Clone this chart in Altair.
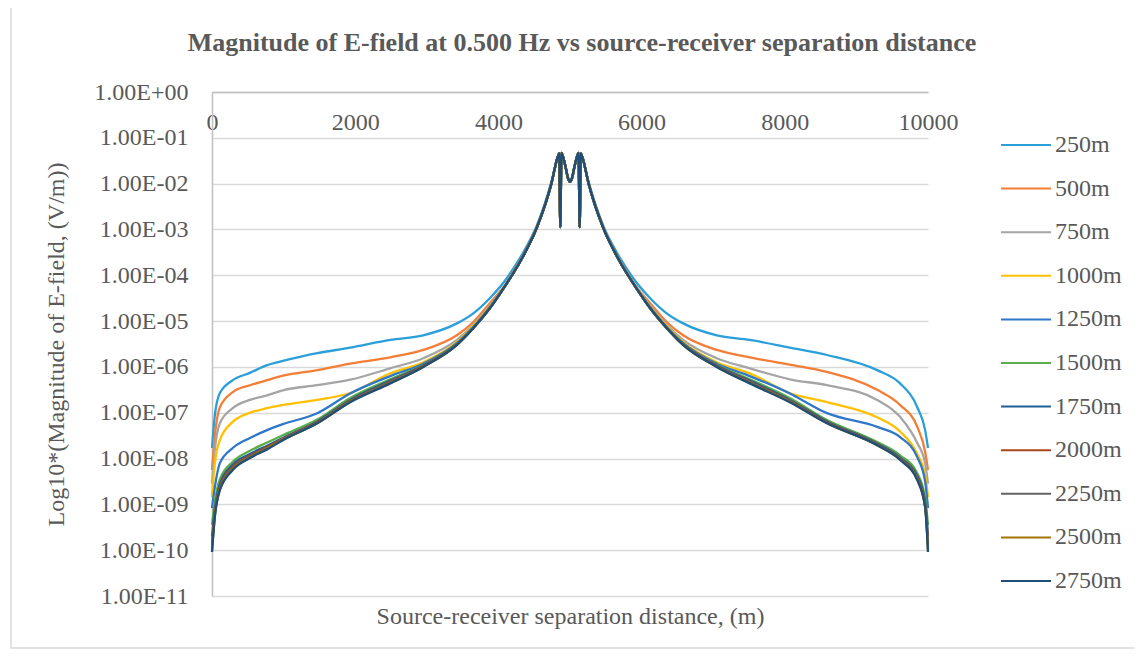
import altair as alt
import pandas as pd

SERIES = ["250m", "500m", "750m", "1000m", "1250m", "1500m",
          "1750m", "2000m", "2250m", "2500m", "2750m"]
COLORS = ["#2A9FDA", "#F47E35", "#A5A5A5", "#FFC000", "#2E77C9", "#5AAD4A",
          "#1F5F99", "#A9461D", "#636363", "#A27500", "#1F4E79"]

# source-receiver separation (m)
X_LEFT = [0, 40, 110, 290, 530, 770, 990, 1470, 1930, 2490, 2950, 3420,
          3650, 3880, 4120, 4210, 4340, 4540, 4740]
X_CENTER = [4830, 4850, 4865, 4880, 4900, 4940, 4970, 5000, 5030, 5060,
            5100, 5120, 5135, 5150, 5170]
X_RIGHT = [5260, 5460, 5660, 5790, 5880, 6120, 6350, 6580, 7050, 7510,
           8070, 8590, 9290, 9610, 9850, 9960, 10000]

# log10 of |E| (V/m) shared by all offsets near the source
LOG_CENTER = [-1.41, -1.34, -2.95, -1.33, -1.40, -1.65, -1.87, -1.96,
              -1.87, -1.65, -1.40, -1.33, -2.95, -1.34, -1.41]

LOG_LEFT = {
    "250m":  [-7.77, -7.05, -6.57, -6.29, -6.13, -5.96, -5.87, -5.70, -5.58, -5.41, -5.31, -5.05, -4.83, -4.50, -4.06, -3.85, -3.52, -2.90, -1.96],
    "500m":  [-8.25, -7.50, -6.88, -6.55, -6.40, -6.29, -6.19, -6.07, -5.93, -5.79, -5.63, -5.31, -5.02, -4.61, -4.15, -3.92, -3.58, -2.93, -1.99],
    "750m":  [-8.55, -7.80, -7.23, -6.90, -6.72, -6.62, -6.51, -6.40, -6.28, -6.03, -5.81, -5.41, -5.08, -4.66, -4.16, -3.94, -3.59, -2.94, -2.00],
    "1000m": [-8.84, -8.10, -7.60, -7.20, -7.00, -6.90, -6.83, -6.72, -6.57, -6.14, -5.90, -5.46, -5.11, -4.69, -4.17, -3.95, -3.60, -2.95, -2.00],
    "1250m": [-9.08, -8.62, -8.10, -7.77, -7.55, -7.38, -7.25, -7.01, -6.58, -6.20, -5.93, -5.48, -5.13, -4.70, -4.17, -3.95, -3.60, -2.95, -2.00],
    "1500m": [-9.45, -8.95, -8.45, -8.07, -7.83, -7.65, -7.49, -7.15, -6.68, -6.27, -5.96, -5.50, -5.14, -4.71, -4.17, -3.95, -3.60, -2.95, -2.00],
    "1750m": [-9.70, -9.10, -8.55, -8.13, -7.90, -7.72, -7.55, -7.19, -6.72, -6.30, -5.97, -5.51, -5.15, -4.72, -4.17, -3.95, -3.60, -2.95, -2.00],
    "2000m": [-9.85, -9.17, -8.61, -8.18, -7.94, -7.75, -7.57, -7.21, -6.74, -6.32, -5.98, -5.51, -5.15, -4.72, -4.17, -3.95, -3.60, -2.95, -2.00],
    "2250m": [-9.95, -9.22, -8.65, -8.21, -7.96, -7.77, -7.58, -7.22, -6.75, -6.33, -5.99, -5.52, -5.15, -4.72, -4.17, -3.95, -3.60, -2.95, -2.00],
    "2500m": [-10.00, -9.25, -8.67, -8.23, -7.98, -7.78, -7.59, -7.23, -6.76, -6.35, -6.00, -5.52, -5.15, -4.72, -4.17, -3.95, -3.60, -2.95, -2.00],
    "2750m": [-10.04, -9.27, -8.69, -8.25, -7.99, -7.80, -7.60, -7.23, -6.77, -6.36, -6.00, -5.52, -5.15, -4.72, -4.17, -3.95, -3.60, -2.95, -2.00],
}

LOG_RIGHT = {
    "250m":  [-1.96, -2.90, -3.52, -3.85, -4.06, -4.50, -4.83, -5.05, -5.31, -5.41, -5.58, -5.74, -6.07, -6.36, -6.88, -7.38, -7.77],
    "500m":  [-1.99, -2.93, -3.58, -3.92, -4.15, -4.61, -5.02, -5.31, -5.63, -5.79, -5.95, -6.11, -6.50, -6.83, -7.31, -7.85, -8.25],
    "750m":  [-2.00, -2.94, -3.59, -3.94, -4.16, -4.66, -5.08, -5.41, -5.81, -6.03, -6.27, -6.40, -6.72, -7.09, -7.66, -8.10, -8.55],
    "1000m": [-2.00, -2.95, -3.60, -3.95, -4.17, -4.69, -5.11, -5.46, -5.90, -6.14, -6.57, -6.77, -7.10, -7.41, -7.90, -8.35, -8.84],
    "1250m": [-2.00, -2.95, -3.60, -3.95, -4.17, -4.70, -5.13, -5.48, -5.93, -6.20, -6.58, -7.01, -7.31, -7.53, -7.97, -8.50, -9.08],
    "1500m": [-2.00, -2.95, -3.60, -3.95, -4.17, -4.71, -5.14, -5.50, -5.96, -6.27, -6.68, -7.16, -7.64, -7.93, -8.32, -8.86, -9.45],
    "1750m": [-2.00, -2.95, -3.60, -3.95, -4.17, -4.72, -5.15, -5.51, -5.97, -6.30, -6.72, -7.19, -7.67, -7.98, -8.38, -8.95, -9.70],
    "2000m": [-2.00, -2.95, -3.60, -3.95, -4.17, -4.72, -5.15, -5.51, -5.98, -6.32, -6.74, -7.21, -7.69, -8.00, -8.42, -9.00, -9.85],
    "2250m": [-2.00, -2.95, -3.60, -3.95, -4.17, -4.72, -5.15, -5.52, -5.99, -6.33, -6.75, -7.22, -7.70, -8.01, -8.44, -9.03, -9.95],
    "2500m": [-2.00, -2.95, -3.60, -3.95, -4.17, -4.72, -5.15, -5.52, -6.00, -6.35, -6.76, -7.23, -7.71, -8.02, -8.46, -9.05, -10.00],
    "2750m": [-2.00, -2.95, -3.60, -3.95, -4.17, -4.72, -5.15, -5.52, -6.00, -6.36, -6.77, -7.23, -7.71, -8.03, -8.47, -9.06, -10.04],
}

X_TICKS = [0, 2000, 4000, 6000, 8000, 10000]
Y_TICKS = [1e-11, 1e-10, 1e-9, 1e-8, 1e-7, 1e-6, 1e-5, 1e-4, 1e-3, 1e-2, 1e-1, 1e0]

rows = []
for si, s in enumerate(SERIES):
    xs = X_LEFT + X_CENTER + X_RIGHT
    ls = LOG_LEFT[s] + LOG_CENTER + LOG_RIGHT[s]
    for x, l in zip(xs, ls):
        rows.append({"series": s, "order": si, "dist": x, "logE": l})
df = pd.DataFrame(rows)

FONT = "Liberation Serif"
GREY = "#595959"

label_expr = ("'1.00E' + (round(log(datum.value)/LN10) >= 0 ? '+' : '-') + "
              "(abs(round(log(datum.value)/LN10)) < 10 ? '0' : '') + "
              "abs(round(log(datum.value)/LN10))")

lines = alt.Chart(df).transform_calculate(
    E="pow(10, datum.logE)"
).mark_line(strokeWidth=2.3, clip=False, interpolate="monotone").encode(
    x=alt.X("dist:Q",
            scale=alt.Scale(domain=[0, 10000], nice=False),
            axis=alt.Axis(orient="bottom", offset=-504, values=X_TICKS, format="d",
                          grid=False, ticks=False, domainColor="#BFBFBF", domainWidth=1.5,
                          labelFont=FONT, labelFontSize=24, labelColor=GREY,
                          labelPadding=18, labelFlush=False,
                          title="Source-receiver separation distance, (m)",
                          titleFont=FONT, titleFontSize=24, titleFontWeight="normal",
                          titleColor=GREY, titleY=531, titleBaseline="alphabetic")),
    y=alt.Y("E:Q",
            scale=alt.Scale(type="log", domain=[1e-11, 1], nice=False),
            axis=alt.Axis(values=Y_TICKS, labelExpr=label_expr, grid=True,
                          gridColor="#D9D9D9", gridWidth=1.5, ticks=False,
                          domainColor="#BFBFBF", domainWidth=1.5,
                          labelFont=FONT, labelFontSize=24, labelColor=GREY,
                          labelPadding=24,
                          title="Log10*(Magnitude of E-field, (V/m))",
                          titleFont=FONT, titleFontSize=24, titleFontWeight="normal",
                          titleColor=GREY, titleX=-144, titleY=252,
                          titleAlign="center", titleBaseline="bottom")),
    color=alt.Color("series:N",
                    scale=alt.Scale(domain=SERIES, range=COLORS),
                    legend=alt.Legend(title=None, orient="none", legendX=788, legendY=27,
                                      symbolType="stroke", symbolSize=2500,
                                      symbolStrokeWidth=2, labelFont=FONT,
                                      labelFontSize=24, labelColor=GREY,
                                      labelOffset=3, rowPadding=5.6)),
    order=alt.Order("order:Q"),
    detail="series:N",
)

border = alt.Chart(pd.DataFrame({"a": [0]})).mark_rect(
    fill=None, stroke="#D9D9D9", strokeWidth=1.5, clip=False
).encode(x=alt.value(-201), x2=alt.value(929), y=alt.value(-100), y2=alt.value(556))

chart = alt.layer(border, lines).properties(
    width=716, height=504,
    padding={"left": 204, "top": 84, "right": 206, "bottom": 55},
    autosize=alt.AutoSizeParams(type="none"),
    title=alt.Title("Magnitude of E-field at 0.500 Hz vs source-receiver separation distance",
                    font=FONT, fontSize=26, fontWeight="bold", color=GREY,
                    anchor="middle", dx=12, offset=0, baseline="alphabetic", dy=86),
).configure_view(stroke=None)

chart.save("out.html", embed_options={"renderer": "svg", "actions": False})
